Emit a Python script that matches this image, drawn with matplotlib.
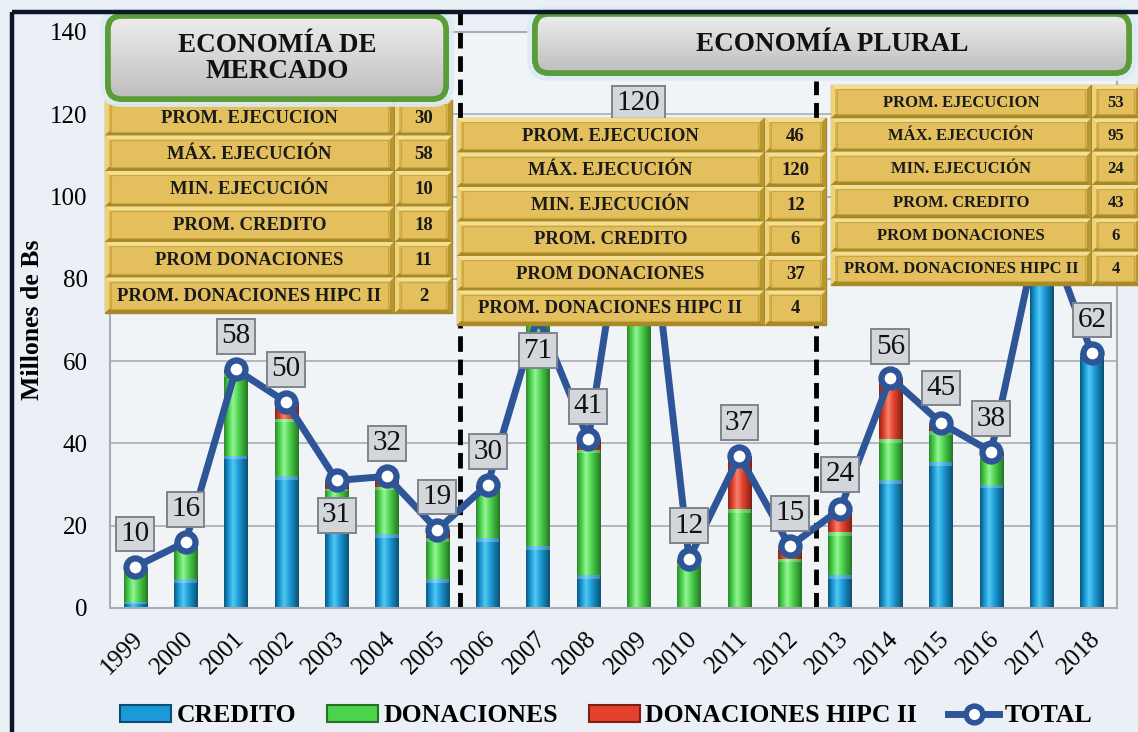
import numpy as np
import matplotlib
matplotlib.use("Agg")
import matplotlib.pyplot as plt
from matplotlib.patches import Rectangle, FancyBboxPatch, Polygon
from matplotlib.lines import Line2D
from matplotlib.colors import LinearSegmentedColormap
import matplotlib.transforms as mtransforms

plt.rcParams['font.family'] = ['Liberation Serif', 'DejaVu Serif']

# ---------------- data ----------------
years = ["1999", "2000", "2001", "2002", "2003", "2004", "2005", "2006", "2007", "2008",
         "2009", "2010", "2011", "2012", "2013", "2014", "2015", "2016", "2017", "2018"]
credito = [1.5, 7, 37, 32, 27, 18, 7, 17, 15, 8, 0, 0, 0, 0, 8, 31, 35.5, 30, 95, 62]
donaciones = [8.5, 9, 20, 14, 2, 11.5, 10, 12, 56, 30.5, 120, 11, 24, 12, 10.5, 10, 7.5, 7, 0, 0]
hipc = [0, 0, 1, 4, 2, 2.5, 2, 1, 0, 2.5, 0, 1, 13, 3, 5.5, 15, 2, 1, 0, 0]
total = [10, 16, 58, 50, 31, 32, 19, 30, 71, 41, 120, 12, 37, 15, 24, 56, 45, 38, 95, 62]

stat_labels = ["PROM. EJECUCION", "MÁX. EJECUCIÓN", "MIN. EJECUCIÓN",
               "PROM. CREDITO", "PROM DONACIONES", "PROM. DONACIONES HIPC II"]
mercado_vals = [30, 58, 10, 18, 11, 2]
plural_a_vals = [46, 120, 12, 6, 37, 4]
plural_b_vals = [53, 95, 24, 43, 6, 4]

title_mercado = "ECONOMÍA DE\nMERCADO"
title_plural = "ECONOMÍA PLURAL"
series_names = ["CREDITO", "DONACIONES", "DONACIONES HIPC II", "TOTAL"]

# label placement (styling): +above / -below
label_dy = [8, 8, 8, 8, -8.5, 8, 8, 8, -8.5, 8, 2.7, 8, 8, 8, 8.5, 7.5, 8.5, 8, 8, 8]

# ---------------- figure ----------------
W, H = 1138, 732
fig = plt.figure(figsize=(W / 100, H / 100), dpi=100)
fig.patch.set_facecolor('#EAF0F5')

def fx(px):
    return px / W

def fy(py):
    return 1 - py / H

ax_l, ax_r, ax_t, ax_b = 110, 1117, 32, 608
ax = fig.add_axes([fx(ax_l), fy(ax_b), fx(ax_r - ax_l), (ax_b - ax_t) / H])
ax.set_facecolor('#F0F4F7')

x = np.arange(len(years))
bw = 0.46

pal = {
    'blue': ['#08577F', '#1C9AD6', '#52C8F2', '#1C9AD6', '#0A4F73'],
    'green': ['#2A8A2A', '#4CD34C', '#96F496', '#4CD34C', '#237523'],
    'red': ['#8E2418', '#E2412E', '#F7826F', '#E2412E', '#7E1F14'],
}
face = {'blue': '#1C9AD6', 'green': '#4CD34C', 'red': '#E2412E'}

b1 = ax.bar(x, credito, bw, color=face['blue'], zorder=2, linewidth=0)
b2 = ax.bar(x, donaciones, bw, bottom=credito, color=face['green'], zorder=2, linewidth=0)
bot3 = np.array(credito) + np.array(donaciones)
b3 = ax.bar(x, hipc, bw, bottom=bot3, color=face['red'], zorder=2, linewidth=0)

grad = np.linspace(0, 1, 128).reshape(1, -1)
for bars, key in [(b1, 'blue'), (b2, 'green'), (b3, 'red')]:
    cols = pal[key]
    cmap = LinearSegmentedColormap.from_list(key, list(zip([0, 0.2, 0.38, 0.62, 1.0], cols)))
    for p in bars:
        h = p.get_height()
        if h <= 0:
            continue
        x0, y0, w = p.get_x(), p.get_y(), p.get_width()
        im = ax.imshow(grad, extent=[x0, x0 + w, y0, y0 + h], cmap=cmap, aspect='auto',
                       origin='lower', zorder=2.1, interpolation='bilinear')
        im.set_clip_path(p)
        ax.add_patch(Rectangle((x0, y0 + h - min(0.9, h * 0.3)), w, min(0.9, h * 0.3),
                               facecolor='white', alpha=0.25, lw=0, zorder=2.2))

line_col = '#2E5597'
ax.plot(x, total, color=line_col, lw=5, zorder=3, marker='o', markersize=13,
        markerfacecolor='white', markeredgecolor=line_col, markeredgewidth=4.5,
        solid_joinstyle='round')

for xi, v, dy in zip(x, total, label_dy):
    ax.text(xi, v + dy, f"{v}", ha='center', va='center', fontsize=21, color='#111111',
            zorder=4, bbox=dict(boxstyle='square,pad=0.15', fc='#D3D6DB', ec='#7E848C', lw=1.4))

# dashed separators
ax.plot([6.45, 6.45], [0, 144.5], color='black', lw=3.5, ls=(0, (3.2, 1.6)), zorder=2.5, clip_on=False)
ax.plot([13.52, 13.52], [0, 128], color='black', lw=3.5, ls=(0, (3.2, 1.6)), zorder=2.5, clip_on=False)

ax.set_xlim(-0.5, 19.5)
ax.set_ylim(0, 140)
ax.set_yticks(np.arange(0, 141, 20))
ax.yaxis.grid(True, color='#A9ADB2', lw=1.2, zorder=0)
ax.set_axisbelow(True)
for s in ax.spines.values():
    s.set_color('#A9ADB2')
    s.set_linewidth(1.5)
ax.tick_params(axis='y', length=0, pad=16, labelsize=18)
ax.set_xticks(x)
ax.set_xticklabels(years, rotation=45, ha='right', va='top', rotation_mode='anchor', fontsize=18)
ax.tick_params(axis='x', length=0, pad=14)
off = mtransforms.ScaledTranslation(-3 / 100, 0, fig.dpi_scale_trans)
for lab in ax.get_xticklabels():
    lab.set_transform(lab.get_transform() + off)
ax.set_ylabel("Millones de Bs", fontsize=18.5, fontweight='bold')
ax.yaxis.set_label_coords((44 - ax_l) / (ax_r - ax_l), 0.5)

# ---------------- overlay (tables, titles, frame) ----------------
ov = fig.add_axes([0, 0, 1, 1], zorder=10)
ov.set_xlim(0, W)
ov.set_ylim(H, 0)
ov.axis('off')
ov.patch.set_alpha(0)

def cell(x0, y0, x1, y1, text, fs):
    ov.add_patch(Rectangle((x0, y0), x1 - x0, y1 - y0, fc='#D8B449', ec='#A8882C', lw=1))
    b = 4
    ov.add_patch(Polygon([[x0, y0], [x1, y0], [x1 - b, y0 + b], [x0 + b, y0 + b]], fc='#F4DE92', lw=0))
    ov.add_patch(Polygon([[x0, y0], [x0 + b, y0 + b], [x0 + b, y1 - b], [x0, y1]], fc='#EDD27C', lw=0))
    ov.add_patch(Polygon([[x0, y1], [x1, y1], [x1 - b, y1 - b], [x0 + b, y1 - b]], fc='#A98826', lw=0))
    ov.add_patch(Polygon([[x1, y0], [x1, y1], [x1 - b, y1 - b], [x1 - b, y0 + b]], fc='#B8962F', lw=0))
    ov.add_patch(Rectangle((x0 + b + 2, y0 + b), x1 - x0 - 2 * b - 4, y1 - y0 - 2 * b,
                           fc='#E3C05D', ec='#C9A63E', lw=0.8))
    ov.text((x0 + x1) / 2, (y0 + y1) / 2 + 1, text, ha='center', va='center',
            fontsize=fs, fontweight='bold', color='#1A1A1A')

def table(xl, xm, xr, ytop, ybot, vals, fs):
    n = len(stat_labels)
    rh = (ybot - ytop) / n
    for i, (lab, v) in enumerate(zip(stat_labels, vals)):
        y0 = ytop + i * rh
        cell(xl, y0, xm, y0 + rh, lab, fs)
        cell(xm + 1, y0, xr, y0 + rh, f"{v}", fs)

table(105, 394, 452, 100, 313, mercado_vals, 13.5)
table(457, 764, 826, 118, 325, plural_a_vals, 13.5)
table(831, 1091, 1140, 85, 285, plural_b_vals, 12)

def title_box(x0, y0, x1, y1, text, fs):
    glow = FancyBboxPatch((x0 - 3, y0 - 3), x1 - x0 + 6, y1 - y0 + 6,
                          boxstyle='round,pad=0,rounding_size=16', fc='none', ec='#DCEBF6', lw=7, alpha=0.9)
    ov.add_patch(glow)
    box = FancyBboxPatch((x0, y0), x1 - x0, y1 - y0, boxstyle='round,pad=0,rounding_size=14',
                         fc='#CDCDCD', ec='#4E8C30', lw=4)
    ov.add_patch(box)
    g = np.linspace(0, 1, 64).reshape(-1, 1)
    cm = LinearSegmentedColormap.from_list('gr', ['#EDEDED', '#D6D6D6', '#BDBDBD'])
    im = ov.imshow(g, extent=[x0, x1, y1, y0], cmap=cm, aspect='auto', origin='upper', zorder=1.5)
    im.set_clip_path(box)
    edge = FancyBboxPatch((x0, y0), x1 - x0, y1 - y0, boxstyle='round,pad=0,rounding_size=14',
                          fc='none', ec='#5A9C36', lw=4, zorder=2)
    ov.add_patch(edge)
    ov.text((x0 + x1) / 2, (y0 + y1) / 2 + 1, text, ha='center', va='center', fontsize=fs,
            fontweight='bold', color='#111111', linespacing=1.0, zorder=3)

title_box(108, 16, 446, 99, title_mercado, 19.5)
title_box(535, 14, 1129, 73, title_plural, 19.5)

# outer frame lines
ov.plot([12, 12], [12, H], color='#0B1626', lw=3.2, solid_capstyle='butt')
ov.plot([12, W], [12, 12], color='#0B1626', lw=3.2, solid_capstyle='butt')
ov.set_xlim(0, W)
ov.set_ylim(H, 0)

# ---------------- legend ----------------
handles = [
    Rectangle((0, 0), 1, 1, fc=face['blue'], ec='#0A4F73', lw=1.5),
    Rectangle((0, 0), 1, 1, fc=face['green'], ec='#237523', lw=1.5),
    Rectangle((0, 0), 1, 1, fc=face['red'], ec='#7E1F14', lw=1.5),
    Line2D([], [], color=line_col, lw=5, marker='o', markersize=12, markerfacecolor='white',
           markeredgecolor=line_col, markeredgewidth=4),
]
fig.legend(handles, series_names, loc='center', bbox_to_anchor=(fx(606), fy(716)), ncol=4,
           frameon=False, handlelength=2.0, handleheight=0.6, handletextpad=0.2,
           columnspacing=1.2, prop={'weight': 'bold', 'size': 18.5})

fig.savefig('out.png', dpi=100, facecolor=fig.get_facecolor())
